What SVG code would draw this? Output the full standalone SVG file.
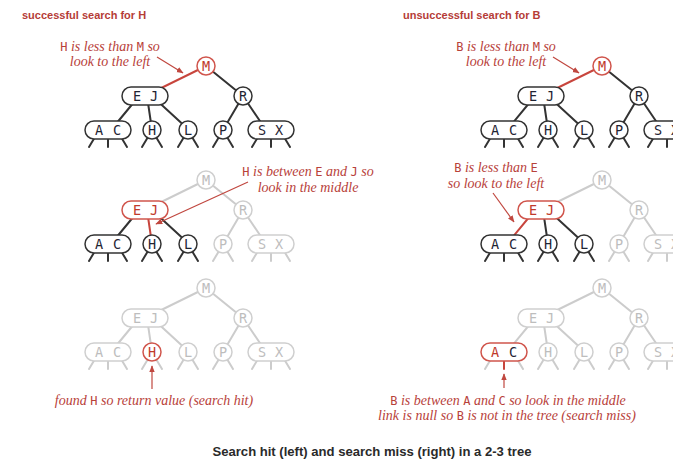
<svg xmlns="http://www.w3.org/2000/svg" width="673" height="463" viewBox="0 0 673 463">
  <style>
    .bg { fill: #ffffff; }
    .e { stroke: #333333; stroke-width: 2; fill: none; stroke-linecap: round; }
    .e.r { stroke: #c8453d; }
    .e.f { stroke: #cccccc; }
    .n { fill: #ffffff; stroke: #333333; stroke-width: 1.5; }
    .n.r { stroke: #d0554c; }
    .n.f { stroke: #cfcfcf; }
    .k { font-family: "DejaVu Sans Mono", monospace; font-size: 13.5px; text-anchor: middle; fill: #1f2433; }
    .k.r { fill: #c0392b; }
    .k.f { fill: #bdbdbd; }
    .title { font-family: "Liberation Sans", Arial, sans-serif; font-weight: bold; font-size: 11px; fill: #b53c37; }
    .note { font-family: "Liberation Serif", "Times New Roman", serif; font-style: italic; font-size: 14px; fill: #b8413a; text-anchor: middle; }
    .code { font-family: "DejaVu Sans Mono", monospace; font-style: normal; font-size: 12px; }
    .ptr { stroke: #c0473f; stroke-width: 1.2; fill: none; }
    .cap { font-family: "Liberation Sans", Arial, sans-serif; font-weight: bold; font-size: 12px; fill: #2a2a2a; text-anchor: middle; }
  </style>
  <defs>
    <marker id="ah" viewBox="0 0 10 10" refX="9" refY="5" markerWidth="7" markerHeight="7" markerUnits="userSpaceOnUse" orient="auto">
      <path d="M0,1 L10,5 L0,9 z" fill="#c0473f"/>
    </marker>
  </defs>
  <rect class="bg" x="0" y="0" width="673" height="463"/>

  <!-- headings -->
  <text class="title" x="22" y="19">successful search for H</text>
  <text class="title" x="403" y="19">unsuccessful search for B</text>

  <!-- ============ left column: search hit ============ -->
  <!-- step 1 -->
  <g id="hit-1">
    <g id="hit-1-links">
      <line class="e r" x1="206" y1="66" x2="145" y2="96"/>
      <line class="e" x1="206" y1="66" x2="243" y2="96"/>
      <line class="e" x1="139" y1="96" x2="111" y2="130"/>
      <line class="e" x1="147" y1="96" x2="152" y2="130"/>
      <line class="e" x1="152" y1="96" x2="189" y2="130"/>
      <line class="e" x1="243" y1="96" x2="223" y2="130"/>
      <line class="e" x1="243" y1="96" x2="266" y2="130"/>
      <path class="e" d="M95,137 L89,147 M108,138 L108,147 M121,137 L127,147"/>
      <path class="e" d="M148,137 L142,147 M156,137 L162,147"/>
      <path class="e" d="M184,137 L178,147 M192,137 L198,147"/>
      <path class="e" d="M219,137 L213,147 M227,137 L233,147"/>
      <path class="e" d="M258,137 L252,147 M271,138 L271,147 M284,137 L290,147"/>
    </g>
    <g id="hit-1-M"><circle class="n r" cx="206" cy="66" r="9"/><text class="k r" x="206" y="71">M</text></g>
    <g id="hit-1-EJ"><rect class="n" x="122" y="87" width="46" height="18" rx="9"/><text class="k" x="137" y="101">E</text><text class="k" x="154" y="101">J</text></g>
    <g id="hit-1-R"><circle class="n" cx="243" cy="96" r="9"/><text class="k" x="243" y="101">R</text></g>
    <g id="hit-1-AC"><rect class="n" x="85" y="121" width="46" height="18" rx="9"/><text class="k" x="99" y="135">A</text><text class="k" x="117" y="135">C</text></g>
    <g id="hit-1-H"><circle class="n" cx="152" cy="130" r="9"/><text class="k" x="152" y="135">H</text></g>
    <g id="hit-1-L"><circle class="n" cx="188" cy="130" r="9"/><text class="k" x="188" y="135">L</text></g>
    <g id="hit-1-P"><circle class="n" cx="223" cy="130" r="9"/><text class="k" x="223" y="135">P</text></g>
    <g id="hit-1-SX"><rect class="n" x="248" y="121" width="46" height="18" rx="9"/><text class="k" x="262" y="135">S</text><text class="k" x="279" y="135">X</text></g>
  </g>
  <text class="note" x="110" y="51"><tspan class="code">H</tspan> is less than <tspan class="code">M</tspan> so</text>
  <text class="note" x="110" y="66">look to the left</text>
  <line class="ptr" x1="157" y1="57" x2="183" y2="73" marker-end="url(#ah)"/>

  <!-- step 2 -->
  <g id="hit-2" transform="translate(0,114)">
    <g id="hit-2-links">
      <line class="e f" x1="206" y1="66" x2="145" y2="96"/>
      <line class="e f" x1="206" y1="66" x2="243" y2="96"/>
      <line class="e" x1="139" y1="96" x2="111" y2="130"/>
      <line class="e r" x1="147" y1="96" x2="152" y2="130"/>
      <line class="e" x1="152" y1="96" x2="189" y2="130"/>
      <line class="e f" x1="243" y1="96" x2="223" y2="130"/>
      <line class="e f" x1="243" y1="96" x2="266" y2="130"/>
      <path class="e" d="M95,137 L89,147 M108,138 L108,147 M121,137 L127,147"/>
      <path class="e" d="M148,137 L142,147 M156,137 L162,147"/>
      <path class="e" d="M184,137 L178,147 M192,137 L198,147"/>
      <path class="e f" d="M219,137 L213,147 M227,137 L233,147"/>
      <path class="e f" d="M258,137 L252,147 M271,138 L271,147 M284,137 L290,147"/>
    </g>
    <g id="hit-2-M"><circle class="n f" cx="206" cy="66" r="9"/><text class="k f" x="206" y="71">M</text></g>
    <g id="hit-2-EJ"><rect class="n r" x="122" y="87" width="46" height="18" rx="9"/><text class="k r" x="137" y="101">E</text><text class="k r" x="154" y="101">J</text></g>
    <g id="hit-2-R"><circle class="n f" cx="243" cy="96" r="9"/><text class="k f" x="243" y="101">R</text></g>
    <g id="hit-2-AC"><rect class="n" x="85" y="121" width="46" height="18" rx="9"/><text class="k" x="99" y="135">A</text><text class="k" x="117" y="135">C</text></g>
    <g id="hit-2-H"><circle class="n" cx="152" cy="130" r="9"/><text class="k" x="152" y="135">H</text></g>
    <g id="hit-2-L"><circle class="n" cx="188" cy="130" r="9"/><text class="k" x="188" y="135">L</text></g>
    <g id="hit-2-P"><circle class="n f" cx="223" cy="130" r="9"/><text class="k f" x="223" y="135">P</text></g>
    <g id="hit-2-SX"><rect class="n f" x="248" y="121" width="46" height="18" rx="9"/><text class="k f" x="262" y="135">S</text><text class="k f" x="279" y="135">X</text></g>
  </g>
  <text class="note" x="308" y="176"><tspan class="code">H</tspan> is between <tspan class="code">E</tspan> and <tspan class="code">J</tspan> so</text>
  <text class="note" x="308" y="192">look in the middle</text>
  <line class="ptr" x1="248" y1="182" x2="156" y2="224" marker-end="url(#ah)"/>

  <!-- step 3 -->
  <g id="hit-3" transform="translate(0,222)">
    <g id="hit-3-links">
      <line class="e f" x1="206" y1="66" x2="145" y2="96"/>
      <line class="e f" x1="206" y1="66" x2="243" y2="96"/>
      <line class="e f" x1="139" y1="96" x2="111" y2="130"/>
      <line class="e f" x1="147" y1="96" x2="152" y2="130"/>
      <line class="e f" x1="152" y1="96" x2="189" y2="130"/>
      <line class="e f" x1="243" y1="96" x2="223" y2="130"/>
      <line class="e f" x1="243" y1="96" x2="266" y2="130"/>
      <path class="e f" d="M95,137 L89,147 M108,138 L108,147 M121,137 L127,147"/>
      <path class="e f" d="M148,137 L142,147 M156,137 L162,147"/>
      <path class="e f" d="M184,137 L178,147 M192,137 L198,147"/>
      <path class="e f" d="M219,137 L213,147 M227,137 L233,147"/>
      <path class="e f" d="M258,137 L252,147 M271,138 L271,147 M284,137 L290,147"/>
    </g>
    <g id="hit-3-M"><circle class="n f" cx="206" cy="66" r="9"/><text class="k f" x="206" y="71">M</text></g>
    <g id="hit-3-EJ"><rect class="n f" x="122" y="87" width="46" height="18" rx="9"/><text class="k f" x="137" y="101">E</text><text class="k f" x="154" y="101">J</text></g>
    <g id="hit-3-R"><circle class="n f" cx="243" cy="96" r="9"/><text class="k f" x="243" y="101">R</text></g>
    <g id="hit-3-AC"><rect class="n f" x="85" y="121" width="46" height="18" rx="9"/><text class="k f" x="99" y="135">A</text><text class="k f" x="117" y="135">C</text></g>
    <g id="hit-3-H"><circle class="n r" cx="152" cy="130" r="9"/><text class="k r" x="152" y="135">H</text></g>
    <g id="hit-3-L"><circle class="n f" cx="188" cy="130" r="9"/><text class="k f" x="188" y="135">L</text></g>
    <g id="hit-3-P"><circle class="n f" cx="223" cy="130" r="9"/><text class="k f" x="223" y="135">P</text></g>
    <g id="hit-3-SX"><rect class="n f" x="248" y="121" width="46" height="18" rx="9"/><text class="k f" x="262" y="135">S</text><text class="k f" x="279" y="135">X</text></g>
  </g>
  <line class="ptr" x1="152" y1="389" x2="152" y2="366" marker-end="url(#ah)"/>
  <text class="note" x="154" y="405">found <tspan class="code">H</tspan> so return value (search hit)</text>

  <!-- ============ right column: search miss ============ -->
  <!-- step 1 -->
  <g id="miss-1" transform="translate(396,0)">
    <g id="miss-1-links">
      <line class="e r" x1="206" y1="66" x2="145" y2="96"/>
      <line class="e" x1="206" y1="66" x2="243" y2="96"/>
      <line class="e" x1="139" y1="96" x2="111" y2="130"/>
      <line class="e" x1="147" y1="96" x2="152" y2="130"/>
      <line class="e" x1="152" y1="96" x2="189" y2="130"/>
      <line class="e" x1="243" y1="96" x2="223" y2="130"/>
      <line class="e" x1="243" y1="96" x2="266" y2="130"/>
      <path class="e" d="M95,137 L89,147 M108,138 L108,147 M121,137 L127,147"/>
      <path class="e" d="M148,137 L142,147 M156,137 L162,147"/>
      <path class="e" d="M184,137 L178,147 M192,137 L198,147"/>
      <path class="e" d="M219,137 L213,147 M227,137 L233,147"/>
      <path class="e" d="M258,137 L252,147 M271,138 L271,147 M284,137 L290,147"/>
    </g>
    <g id="miss-1-M"><circle class="n r" cx="206" cy="66" r="9"/><text class="k r" x="206" y="71">M</text></g>
    <g id="miss-1-EJ"><rect class="n" x="122" y="87" width="46" height="18" rx="9"/><text class="k" x="137" y="101">E</text><text class="k" x="154" y="101">J</text></g>
    <g id="miss-1-R"><circle class="n" cx="243" cy="96" r="9"/><text class="k" x="243" y="101">R</text></g>
    <g id="miss-1-AC"><rect class="n" x="85" y="121" width="46" height="18" rx="9"/><text class="k" x="99" y="135">A</text><text class="k" x="117" y="135">C</text></g>
    <g id="miss-1-H"><circle class="n" cx="152" cy="130" r="9"/><text class="k" x="152" y="135">H</text></g>
    <g id="miss-1-L"><circle class="n" cx="188" cy="130" r="9"/><text class="k" x="188" y="135">L</text></g>
    <g id="miss-1-P"><circle class="n" cx="223" cy="130" r="9"/><text class="k" x="223" y="135">P</text></g>
    <g id="miss-1-SX"><rect class="n" x="248" y="121" width="46" height="18" rx="9"/><text class="k" x="262" y="135">S</text><text class="k" x="279" y="135">X</text></g>
  </g>
  <text class="note" x="506" y="51"><tspan class="code">B</tspan> is less than <tspan class="code">M</tspan> so</text>
  <text class="note" x="506" y="66">look to the left</text>
  <line class="ptr" x1="553" y1="57" x2="579" y2="73" marker-end="url(#ah)"/>

  <!-- step 2 -->
  <g id="miss-2" transform="translate(396,114)">
    <g id="miss-2-links">
      <line class="e f" x1="206" y1="66" x2="145" y2="96"/>
      <line class="e f" x1="206" y1="66" x2="243" y2="96"/>
      <line class="e r" x1="139" y1="96" x2="111" y2="130"/>
      <line class="e" x1="147" y1="96" x2="152" y2="130"/>
      <line class="e" x1="152" y1="96" x2="189" y2="130"/>
      <line class="e f" x1="243" y1="96" x2="223" y2="130"/>
      <line class="e f" x1="243" y1="96" x2="266" y2="130"/>
      <path class="e" d="M95,137 L89,147 M108,138 L108,147 M121,137 L127,147"/>
      <path class="e" d="M148,137 L142,147 M156,137 L162,147"/>
      <path class="e" d="M184,137 L178,147 M192,137 L198,147"/>
      <path class="e f" d="M219,137 L213,147 M227,137 L233,147"/>
      <path class="e f" d="M258,137 L252,147 M271,138 L271,147 M284,137 L290,147"/>
    </g>
    <g id="miss-2-M"><circle class="n f" cx="206" cy="66" r="9"/><text class="k f" x="206" y="71">M</text></g>
    <g id="miss-2-EJ"><rect class="n r" x="122" y="87" width="46" height="18" rx="9"/><text class="k r" x="137" y="101">E</text><text class="k r" x="154" y="101">J</text></g>
    <g id="miss-2-R"><circle class="n f" cx="243" cy="96" r="9"/><text class="k f" x="243" y="101">R</text></g>
    <g id="miss-2-AC"><rect class="n" x="85" y="121" width="46" height="18" rx="9"/><text class="k" x="99" y="135">A</text><text class="k" x="117" y="135">C</text></g>
    <g id="miss-2-H"><circle class="n" cx="152" cy="130" r="9"/><text class="k" x="152" y="135">H</text></g>
    <g id="miss-2-L"><circle class="n" cx="188" cy="130" r="9"/><text class="k" x="188" y="135">L</text></g>
    <g id="miss-2-P"><circle class="n f" cx="223" cy="130" r="9"/><text class="k f" x="223" y="135">P</text></g>
    <g id="miss-2-SX"><rect class="n f" x="248" y="121" width="46" height="18" rx="9"/><text class="k f" x="262" y="135">S</text><text class="k f" x="279" y="135">X</text></g>
  </g>
  <text class="note" x="496" y="172"><tspan class="code">B</tspan> is less than <tspan class="code">E</tspan></text>
  <text class="note" x="496" y="188">so look to the left</text>
  <line class="ptr" x1="493" y1="193" x2="514" y2="222" marker-end="url(#ah)"/>

  <!-- step 3 -->
  <g id="miss-3" transform="translate(396,222)">
    <g id="miss-3-links">
      <line class="e f" x1="206" y1="66" x2="145" y2="96"/>
      <line class="e f" x1="206" y1="66" x2="243" y2="96"/>
      <line class="e f" x1="139" y1="96" x2="111" y2="130"/>
      <line class="e f" x1="147" y1="96" x2="152" y2="130"/>
      <line class="e f" x1="152" y1="96" x2="189" y2="130"/>
      <line class="e f" x1="243" y1="96" x2="223" y2="130"/>
      <line class="e f" x1="243" y1="96" x2="266" y2="130"/>
      <path class="e f" d="M95,137 L89,147 M121,137 L127,147"/>
      <path class="e r" d="M108,138 L108,147"/>
      <path class="e f" d="M148,137 L142,147 M156,137 L162,147"/>
      <path class="e f" d="M184,137 L178,147 M192,137 L198,147"/>
      <path class="e f" d="M219,137 L213,147 M227,137 L233,147"/>
      <path class="e f" d="M258,137 L252,147 M271,138 L271,147 M284,137 L290,147"/>
    </g>
    <g id="miss-3-M"><circle class="n f" cx="206" cy="66" r="9"/><text class="k f" x="206" y="71">M</text></g>
    <g id="miss-3-EJ"><rect class="n f" x="122" y="87" width="46" height="18" rx="9"/><text class="k f" x="137" y="101">E</text><text class="k f" x="154" y="101">J</text></g>
    <g id="miss-3-R"><circle class="n f" cx="243" cy="96" r="9"/><text class="k f" x="243" y="101">R</text></g>
    <g id="miss-3-AC"><rect class="n r" x="85" y="121" width="46" height="18" rx="9"/><text class="k r" x="99" y="135">A</text><text class="k" x="117" y="135">C</text></g>
    <g id="miss-3-H"><circle class="n f" cx="152" cy="130" r="9"/><text class="k f" x="152" y="135">H</text></g>
    <g id="miss-3-L"><circle class="n f" cx="188" cy="130" r="9"/><text class="k f" x="188" y="135">L</text></g>
    <g id="miss-3-P"><circle class="n f" cx="223" cy="130" r="9"/><text class="k f" x="223" y="135">P</text></g>
    <g id="miss-3-SX"><rect class="n f" x="248" y="121" width="46" height="18" rx="9"/><text class="k f" x="262" y="135">S</text><text class="k f" x="279" y="135">X</text></g>
  </g>
  <line class="ptr" x1="504" y1="388" x2="504" y2="374" marker-end="url(#ah)"/>
  <text class="note" x="508" y="405"><tspan class="code">B</tspan> is between <tspan class="code">A</tspan> and <tspan class="code">C</tspan> so look in the middle</text>
  <text class="note" x="507" y="420">link is null so <tspan class="code">B</tspan> is not in the tree (search miss)</text>

  <!-- caption -->
  <text class="cap" x="372" y="456" textLength="319" lengthAdjust="spacingAndGlyphs">Search hit (left) and search miss (right) in a 2-3 tree</text>
</svg>
